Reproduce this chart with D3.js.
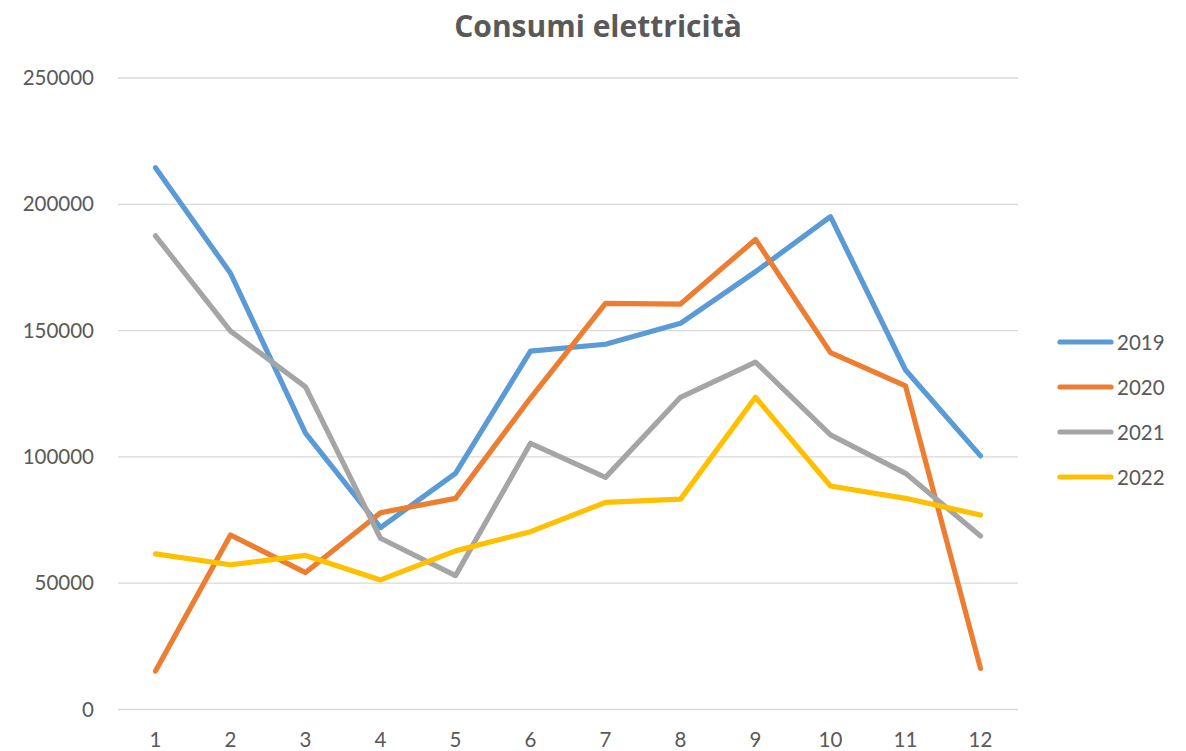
<!DOCTYPE html>
<html>
<head>
<meta charset="utf-8">
<script src="https://cdn.jsdelivr.net/npm/d3@7"></script>
<style>
  body { margin: 0; background: #fff; }
  svg { display: block; font-family: Lato, "Open Sans", sans-serif; }
</style>
</head>
<body>
<script>
// dati
var months = ["1","2","3","4","5","6","7","8","9","10","11","12"];
var years = ["2019","2020","2021","2022"];
var v2019 = [214500,172700,109400,72000,93500,141900,144600,152900,173300,195100,134400,100400];
var v2020 = [15200,69100,54200,77900,83600,123300,160800,160500,186100,141300,128100,16300];
var v2021 = [187500,149800,127700,67800,53000,105400,91900,123600,137500,108700,93500,68700];
var v2022 = [61600,57300,61000,51300,62800,70400,82000,83300,123600,88500,83600,77000];
var yTicks = [0,50000,100000,150000,200000,250000];
var colors = ["#5B9BD5","#ED7D31","#A5A5A5","#FFC000"];

var series = [v2019, v2020, v2021, v2022];

var W = 1186, H = 751;
var svg = d3.select("body").append("svg")
    .attr("width", W)
    .attr("height", H);

var x = d3.scaleBand()
    .domain(months)
    .range([118, 1018]);
var y = d3.scaleLinear()
    .domain([0, 250000])
    .range([709.5, 78]);

// griglia
svg.append("g")
  .selectAll("line")
  .data(yTicks)
  .enter().append("line")
    .attr("x1", 118)
    .attr("x2", 1018)
    .attr("y1", function(d){ return y(d); })
    .attr("y2", function(d){ return y(d); })
    .attr("stroke", "#d9d9d9")
    .attr("stroke-width", 1.3);

// etichette asse y
svg.append("g")
  .selectAll("text")
  .data(yTicks)
  .enter().append("text")
    .attr("x", 94)
    .attr("y", function(d){ return y(d) + 7; })
    .attr("text-anchor", "end")
    .attr("font-size", 20.5)
    .attr("fill", "#595959")
    .text(function(d){ return d; });

// etichette asse x
svg.append("g")
  .selectAll("text")
  .data(months)
  .enter().append("text")
    .attr("x", function(d){ return x(d) + x.bandwidth()/2; })
    .attr("y", 747)
    .attr("text-anchor", "middle")
    .attr("font-size", 20.5)
    .attr("fill", "#595959")
    .text(function(d){ return d; });

var line = d3.line()
    .x(function(d, i){ return x(months[i]) + x.bandwidth()/2; })
    .y(function(d){ return y(d); });

svg.append("g")
  .selectAll("path")
  .data(series)
  .enter().append("path")
    .attr("d", line)
    .attr("fill", "none")
    .attr("stroke", function(d, i){ return colors[i]; })
    .attr("stroke-width", 5.2)
    .attr("stroke-linejoin", "round")
    .attr("stroke-linecap", "round");

// legenda
var leg = svg.append("g")
  .selectAll("g")
  .data(years)
  .enter().append("g")
    .attr("transform", function(d, i){ return "translate(1058," + (342 + i*45) + ")"; });
leg.append("line")
    .attr("x1", 2).attr("x2", 53)
    .attr("stroke", function(d, i){ return colors[i]; })
    .attr("stroke-width", 5.2)
    .attr("stroke-linecap", "round");
leg.append("text")
    .attr("x", 59)
    .attr("y", 7.5)
    .attr("font-size", 20.5)
    .attr("fill", "#595959")
    .text(function(d){ return d; });

// titolo
svg.append("text")
    .attr("x", 598)
    .attr("y", 37)
    .attr("text-anchor", "middle")
    .attr("font-family", "'Open Sans', sans-serif")
    .attr("font-size", 30)
    .attr("font-weight", "bold")
    .attr("fill", "#595959")
    .text("Consumi elettricità");
</script>
</body>
</html>
